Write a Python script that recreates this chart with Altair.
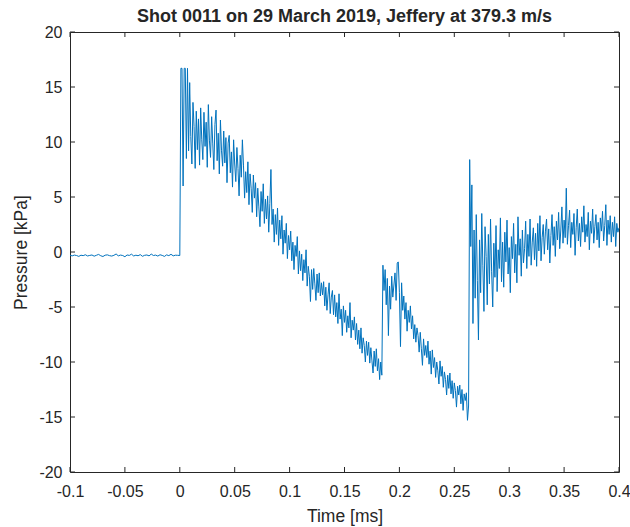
import altair as alt
import pandas as pd

# ---- data ----
# each segment: start time (ms), sample spacing (ms), pressures (kPa)
T0_PRE, DT_PRE = -0.1, 0.002
T0_DECAY, T0_RECOV, T0_TAIL, DT = 0.001, 0.185, 0.264, 0.001

pre = [-0.30, -0.35, -0.28, -0.32, -0.40, -0.29, -0.33, -0.25, -0.36, -0.31,
       -0.27, -0.38, -0.30, -0.22, -0.34, -0.41, -0.29, -0.26, -0.33, -0.37,
       -0.30, -0.18, -0.35, -0.28, -0.32, -0.43, -0.27, -0.31, -0.20, -0.36,
       -0.29, -0.34, -0.24, -0.39, -0.30, -0.27, -0.35, -0.19, -0.32, -0.28,
       -0.37, -0.25, -0.31, -0.40, -0.26, -0.33, -0.21, -0.35, -0.29, -0.30, -0.32]

decay = [16.7, 16.7, 6.0, 16.7, 16.7, 8.5, 16.7, 9.2, 15.4, 10.5,
         8.0, 13.6, 11.4, 7.6, 12.8, 9.3, 12.1, 7.9, 13.1, 10.2,
         8.4, 12.7, 9.6, 11.8, 7.7, 13.4, 10.1, 8.6, 12.3, 9.9,
         7.5, 11.6, 12.9, 8.3, 10.8, 7.1, 12.0, 9.2, 7.8, 11.0,
         8.1, 10.4, 6.3, 9.9, 10.6, 7.2, 9.1, 5.9, 10.2, 8.0,
         6.4, 9.5, 7.6, 5.1, 8.8, 6.8, 10.2, 7.9, 4.9, 7.3,
         5.4, 8.2, 4.3, 7.1, 5.8, 3.6, 7.0, 4.9, 6.3, 3.2,
         5.8, 4.1, 2.3, 5.5, 3.7, 6.2, 2.6, 4.8, 3.0, 5.1,
         1.8, 4.4, 7.5, 2.5, 3.9, 0.9, 3.4, 1.6, 4.0, 0.6,
         2.9, 1.2, 3.3, -0.2, 2.0, 0.8, 2.6, -0.6, 1.5, 0.2,
         1.9, -0.8, 0.9, -1.6, 0.6, -0.4, 1.4, -2.0, 0.1, -1.7,
         -0.2, -2.6, -0.7, -1.9, 0.2, -3.1, -1.3, -2.2, -4.5, -1.6,
         -3.4, -1.5, -2.9, -4.4, -2.0, -3.7, -1.9, -4.0, -2.8, -3.9,
         -2.7, -4.9, -3.2, -5.3, -3.9, -2.8, -5.6, -4.1, -3.5, -5.7,
         -3.9, -5.9, -4.6, -6.5, -3.8, -6.1, -5.2, -7.6, -4.9, -6.4,
         -5.3, -7.3, -5.8, -6.9, -4.6, -7.8, -6.2, -7.1, -5.9, -8.0,
         -6.5, -8.4, -7.1, -8.8, -6.9, -9.2, -7.8, -8.5, -10.0, -8.1,
         -9.4, -8.2, -10.1, -8.7, -9.9, -11.0, -9.0, -10.4, -8.8, -10.8,
         -9.7, -11.6, -10.0, -11.2]

recov = [-1.2, -3.5, -1.6, -4.8, -2.4, -7.6, -3.1, -5.2, -2.2, -4.1,
         -3.0, -1.9, -4.4, -1.0, -0.9, -3.7, -8.6, -2.8, -5.3, -4.0,
         -6.1, -4.6, -7.2, -5.3, -6.4, -4.9, -7.0, -5.8, -7.9, -6.6,
         -8.2, -6.9, -7.6, -9.1, -7.3, -8.8, -10.3, -7.9, -9.4, -8.5,
         -9.6, -8.1, -10.2, -9.0, -11.1, -8.9, -10.5, -9.6, -11.4, -10.0,
         -10.8, -12.0, -9.9, -11.3, -10.4, -12.3, -10.9, -11.6, -13.0, -11.2,
         -12.4, -11.0, -12.9, -11.7, -13.3, -11.9, -12.6, -14.1, -12.2, -13.0,
         -12.1, -13.8, -12.5, -14.4, -12.9, -13.5, -12.8, -15.3, -14.0]

tail = [8.4, 0.5, 6.1, -6.5, 2.0, -4.2, 3.4, -2.6, -8.0, 1.1,
        -3.7, 3.5, -1.2, -5.4, 2.3, -0.4, -4.8, 1.6, -2.9, 3.0,
        -1.8, -5.0, 0.8, -2.3, 2.4, -3.6, 0.2, -1.5, 3.1, -2.7,
        0.9, -3.2, 1.8, -0.9, 2.9, -2.0, 0.4, -3.7, 1.4, -0.6,
        2.6, -1.9, 0.7, -2.8, 3.2, -0.3, 1.2, -2.2, 2.0, -1.0,
        0.3, 2.8, -1.5, 1.6, -0.4, 3.0, -1.2, 0.9, 2.2, -0.7,
        1.7, -1.3, 2.6, 0.1, 3.3, -0.8, 1.3, 2.5, -0.2, 1.9,
        3.0, 0.2, 2.1, -1.0, 1.5, 3.4, 0.6, 2.3, -0.4, 2.8,
        1.1, 3.6, 0.3, 2.0, 4.1, 0.8, 2.9, 1.3, 5.8, 0.7,
        2.4, 3.8, 0.4, 2.7, 1.6, 3.5, -0.3, 2.2, 3.9, 1.0,
        2.6, 0.5, 3.2, 1.8, 4.2, 0.9, 2.5, 1.4, 3.6, 0.2,
        2.8, 1.7, 3.9, 0.8, 2.3, 3.4, 1.1, 2.7, 0.4, 3.1,
        1.9, 3.7, 1.0, 2.4, 4.3, 0.6, 2.9, 1.6, 3.3, 0.9,
        2.7, 1.4, 3.2, 0.5, 2.6, 1.8, 2.2]

x_ticks = [-0.1, -0.05, 0, 0.05, 0.1, 0.15, 0.2, 0.25, 0.3, 0.35, 0.4]
y_ticks = [-20, -15, -10, -5, 0, 5, 10, 15, 20]

TITLE = "Shot 0011 on 29 March 2019, Jeffery at 379.3 m/s"
X_TITLE = "Time [ms]"
Y_TITLE = "Pressure [kPa]"

# ---- table ----
rows = []
for t0, dt, vals in [(T0_PRE, DT_PRE, pre), (T0_DECAY, DT, decay),
                     (T0_RECOV, DT, recov), (T0_TAIL, DT, tail)]:
    for i, v in enumerate(vals):
        rows.append({"t": round(t0 + i * dt, 6), "p": v})
df = pd.DataFrame(rows)
xt = pd.DataFrame({"t": x_ticks})
yt = pd.DataFrame({"p": y_ticks})

# ---- layout / style ----
W, H = 549, 440
TICK = 5
INK = "#262626"
BLUE = "#0072BD"
FONT = "Liberation Sans"

xs = alt.Scale(domain=[-0.1, 0.4], nice=False, zero=False)
ys = alt.Scale(domain=[-20, 20], nice=False, zero=False)

x_axis = alt.Axis(
    values=x_ticks, title=X_TITLE, labelExpr="'' + datum.value",
    grid=False, ticks=False, tickSize=0, domain=False, labelFlush=False,
    labelOverlap=False, labelPadding=11, titlePadding=8,
    labelFontSize=16, titleFontSize=17.5, titleFontWeight="normal",
    labelColor=INK, titleColor=INK, labelFont=FONT, titleFont=FONT)
y_axis = alt.Axis(
    values=y_ticks, title=Y_TITLE, labelExpr="'' + datum.value",
    grid=False, ticks=False, tickSize=0, domain=False,
    labelOverlap=False, labelPadding=8, titlePadding=8,
    labelFontSize=16, titleFontSize=17.5, titleFontWeight="normal",
    labelColor=INK, titleColor=INK, labelFont=FONT, titleFont=FONT)

X = alt.X("t:Q", scale=xs, axis=x_axis)
Y = alt.Y("p:Q", scale=ys, axis=y_axis)

line = alt.Chart(df).mark_line(color=BLUE, strokeWidth=1).encode(x=X, y=Y)

bottom = alt.Chart(xt).mark_rule(color=INK, strokeWidth=1).encode(
    x=X, y=alt.value(H), y2=alt.value(H - TICK))
top = alt.Chart(xt).mark_rule(color=INK, strokeWidth=1).encode(
    x=X, y=alt.value(0), y2=alt.value(TICK))
left = alt.Chart(yt).mark_rule(color=INK, strokeWidth=1).encode(
    y=Y, x=alt.value(0), x2=alt.value(TICK))
right = alt.Chart(yt).mark_rule(color=INK, strokeWidth=1).encode(
    y=Y, x=alt.value(W - TICK), x2=alt.value(W))

chart = alt.layer(line, bottom, top, left, right).properties(
    width=W, height=H,
    title=alt.Title(TITLE, fontSize=18, fontWeight="bold", font=FONT,
                    color=INK, offset=5, dy=7, anchor="middle"),
    autosize=alt.AutoSizeParams(type="none"),
    padding={"left": 70, "top": 32, "right": 11, "bottom": 55},
    background="white",
).configure_view(stroke=INK, strokeWidth=1)

chart.save("out.html", embed_options={"renderer": "svg", "actions": False})
